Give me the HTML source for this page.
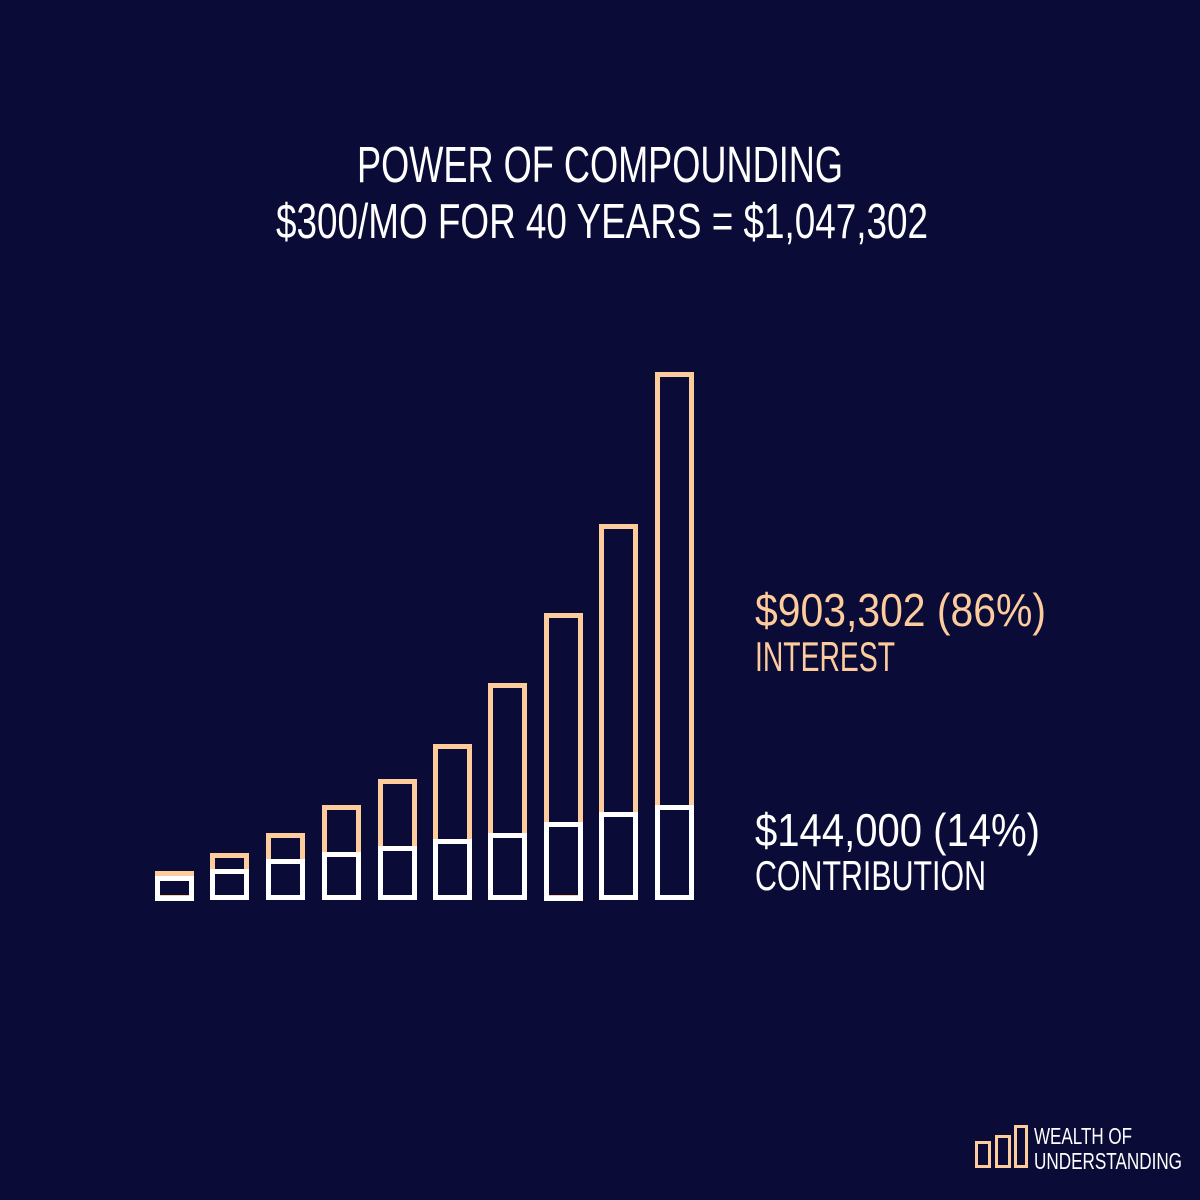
<!DOCTYPE html>
<html><head><style>
html,body{margin:0;padding:0;background:#0b0b38;}
svg{display:block}
text{font-family:"Liberation Sans",sans-serif;}
</style></head><body>
<svg width="1200" height="1200" viewBox="0 0 1200 1200" xmlns="http://www.w3.org/2000/svg">
<rect width="1200" height="1200" fill="#0b0b38"/>
<g fill="#ffffff">
<text x="357" y="182" font-size="51" textLength="486" lengthAdjust="spacingAndGlyphs">POWER OF COMPOUNDING</text>
<text x="276" y="238" font-size="49" textLength="652" lengthAdjust="spacingAndGlyphs">$300/MO FOR 40 YEARS = $1,047,302</text>
</g>
<g fill="none" stroke="#fccc9c" stroke-width="5">
<rect x="157.5" y="873.5" width="34" height="24"/>
<rect x="212.5" y="855.5" width="34" height="42"/>
<rect x="268.5" y="835.5" width="34" height="62"/>
<rect x="324.5" y="807.5" width="34" height="90"/>
<rect x="380.5" y="781.5" width="34" height="116"/>
<rect x="435.5" y="746.5" width="34" height="151"/>
<rect x="490.5" y="685.5" width="34" height="212"/>
<rect x="546.5" y="615.5" width="34" height="282"/>
<rect x="601.5" y="526.5" width="34" height="371"/>
<rect x="657.5" y="374.5" width="34" height="523"/>
</g>
<g fill="none" stroke="#ffffff" stroke-width="5">
<rect x="157.5" y="878.5" width="34" height="20"/>
<rect x="212.5" y="871.5" width="34" height="26"/>
<rect x="268.5" y="861.5" width="34" height="36"/>
<rect x="324.5" y="854.5" width="34" height="43"/>
<rect x="380.5" y="848.5" width="34" height="49"/>
<rect x="435.5" y="841.5" width="34" height="56"/>
<rect x="490.5" y="835.5" width="34" height="62"/>
<rect x="546.5" y="824.5" width="34" height="74"/>
<rect x="601.5" y="814.5" width="34" height="83"/>
<rect x="657.5" y="807.5" width="34" height="90"/>
</g>
<g fill="#fccc9c">
<text x="755" y="626" font-size="46" textLength="291" lengthAdjust="spacingAndGlyphs">$903,302 (86%)</text>
<text x="755" y="671" font-size="42" textLength="140" lengthAdjust="spacingAndGlyphs">INTEREST</text>
</g>
<g fill="#ffffff">
<text x="755" y="846" font-size="46" textLength="285" lengthAdjust="spacingAndGlyphs">$144,000 (14%)</text>
<text x="755" y="890" font-size="42" textLength="231" lengthAdjust="spacingAndGlyphs">CONTRIBUTION</text>
</g>
<g fill="none" stroke="#fccc9c" stroke-width="3">
<rect x="976.5" y="1142.5" width="13" height="24"/>
<rect x="996.5" y="1136.5" width="13" height="30"/>
<rect x="1015.5" y="1126.5" width="11" height="40"/>
</g>
<g fill="#ffffff">
<text x="1034" y="1144" font-size="23" textLength="98" lengthAdjust="spacingAndGlyphs">WEALTH OF</text>
<text x="1034" y="1169" font-size="23" textLength="148" lengthAdjust="spacingAndGlyphs">UNDERSTANDING</text>
</g>
</svg>
</body></html>
